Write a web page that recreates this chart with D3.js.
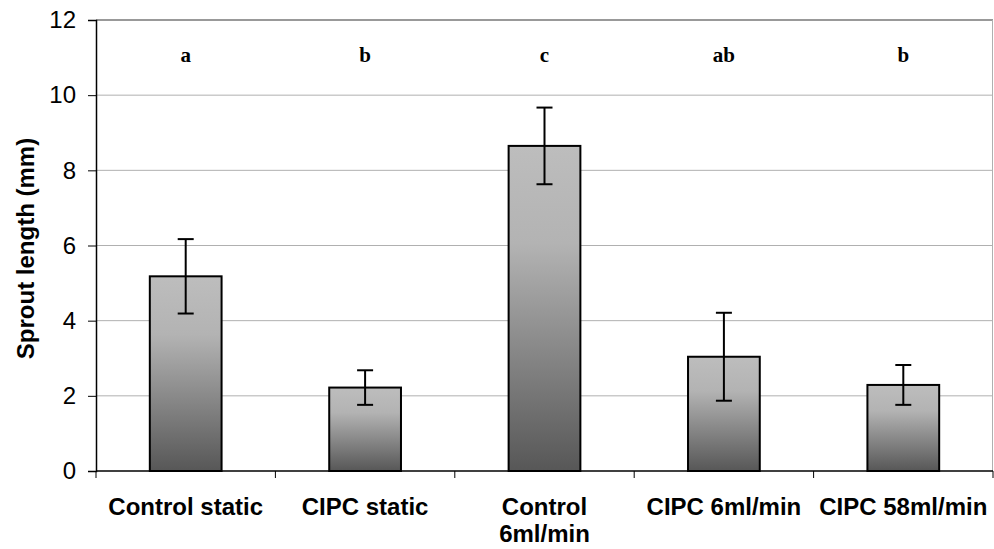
<!DOCTYPE html>
<html>
<head>
<meta charset="utf-8">
<script src="https://cdn.jsdelivr.net/npm/d3@7"></script>
<style>
  body { margin: 0; background: #fff; }
  svg { display: block; }
  .tick text { font-family: Arial, "Liberation Sans", sans-serif; }
</style>
</head>
<body>
<svg id="chart"></svg>
<script>
var categories = ["Control static", "CIPC static", "Control 6ml/min", "CIPC 6ml/min", "CIPC 58ml/min"];
var means = [5.18, 2.22, 8.65, 3.04, 2.29];
var errors = [0.99, 0.46, 1.02, 1.17, 0.53];
var letters = ["a", "b", "c", "ab", "b"];
var yTicks = [0, 2, 4, 6, 8, 10, 12];

var width = 994,
    height = 549,
    margin = {top: 20, right: 1, bottom: 78, left: 96},
    innerwidth = width - margin.left - margin.right,
    innerheight = height - margin.top - margin.bottom;

var data = categories.map(function(c, i) {
    return {name: c, mean: means[i], err: errors[i], letter: letters[i]};
});

var svg = d3.select("#chart")
    .attr("width", width)
    .attr("height", height);

var defs = svg.append("defs");
var grad = defs.append("linearGradient")
    .attr("id", "barGrad")
    .attr("x1", 0).attr("y1", 0)
    .attr("x2", 0).attr("y2", 1);
grad.append("stop").attr("offset", "0%").attr("stop-color", "#bdbdbd");
grad.append("stop").attr("offset", "30%").attr("stop-color", "#b3b3b3");
grad.append("stop").attr("offset", "100%").attr("stop-color", "#575757");

var g = svg.append("g")
    .attr("transform", "translate(" + margin.left + "," + margin.top + ")");

var xScale = d3.scaleBand()
    .range([0, innerwidth])
    .domain(categories)
    .paddingInner(0.6)
    .paddingOuter(0.3);

var yScale = d3.scaleLinear()
    .range([innerheight, 0])
    .domain([0, 12]);

// gridlines
g.selectAll(".grid")
    .data(yTicks.filter(function(d) { return d > 0; }))
    .enter().append("line")
    .attr("class", "grid")
    .attr("x1", 0)
    .attr("x2", innerwidth)
    .attr("y1", function(d) { return yScale(d); })
    .attr("y2", function(d) { return yScale(d); })
    .attr("stroke", function(d) { return d === 12 ? "#999" : "#b0b0b0"; })
    .attr("stroke-width", function(d) { return d === 12 ? 2 : 1; });

// right border
g.append("line")
    .attr("x1", innerwidth - 0.5).attr("x2", innerwidth - 0.5)
    .attr("y1", 0).attr("y2", innerheight)
    .attr("stroke", "#b0b0b0");

// bars
g.selectAll(".bar")
    .data(data)
    .enter().append("rect")
    .attr("class", "bar")
    .attr("x", function(d) { return xScale(d.name); })
    .attr("y", function(d) { return yScale(d.mean); })
    .attr("width", xScale.bandwidth())
    .attr("height", function(d) { return innerheight - yScale(d.mean); })
    .attr("fill", "url(#barGrad)")
    .attr("stroke", "#000")
    .attr("stroke-width", 2);

// error bars
var eb = g.selectAll(".err")
    .data(data)
    .enter().append("g")
    .attr("class", "err")
    .attr("transform", function(d) { return "translate(" + (xScale(d.name) + xScale.bandwidth() / 2) + ",0)"; });

eb.append("line")
    .attr("x1", 0).attr("x2", 0)
    .attr("y1", function(d) { return yScale(d.mean + d.err); })
    .attr("y2", function(d) { return yScale(d.mean - d.err); })
    .attr("stroke", "#000").attr("stroke-width", 2);
eb.append("line")
    .attr("x1", -8).attr("x2", 8)
    .attr("y1", function(d) { return yScale(d.mean + d.err); })
    .attr("y2", function(d) { return yScale(d.mean + d.err); })
    .attr("stroke", "#000").attr("stroke-width", 2);
eb.append("line")
    .attr("x1", -8).attr("x2", 8)
    .attr("y1", function(d) { return yScale(d.mean - d.err); })
    .attr("y2", function(d) { return yScale(d.mean - d.err); })
    .attr("stroke", "#000").attr("stroke-width", 2);

// significance letters
g.selectAll(".letter")
    .data(data)
    .enter().append("text")
    .attr("class", "letter")
    .attr("x", function(d) { return xScale(d.name) + xScale.bandwidth() / 2; })
    .attr("y", 42)
    .attr("text-anchor", "middle")
    .style("font-family", "'Liberation Serif', 'Times New Roman', serif")
    .style("font-weight", "bold")
    .style("font-size", "21px")
    .text(function(d) { return d.letter; });

// y axis
var yAxis = d3.axisLeft(yScale).tickValues(yTicks).tickSize(8).tickPadding(12);
var ya = g.append("g").attr("class", "y axis").call(yAxis);
ya.select(".domain").attr("stroke", "#000").attr("stroke-width", 1.5);
ya.selectAll(".tick line").attr("stroke", "#000");
ya.selectAll(".tick text").style("font-size", "24px").attr("fill", "#000");

// x axis: ticks at band boundaries
var xa = g.append("g")
    .attr("class", "x axis")
    .attr("transform", "translate(0," + innerheight + ")");
xa.append("line")
    .attr("x1", 0).attr("x2", innerwidth)
    .attr("stroke", "#000").attr("stroke-width", 1.5);
var step = xScale.step();
var bounds = d3.range(categories.length + 1).map(function(i) {
    return xScale(categories[0]) - xScale.paddingOuter() * step + i * step;
});
xa.selectAll(".xtick")
    .data(bounds)
    .enter().append("line")
    .attr("class", "xtick")
    .attr("x1", function(d) { return d; })
    .attr("x2", function(d) { return d; })
    .attr("y1", 0).attr("y2", 7)
    .attr("stroke", "#000");

var xl = xa.selectAll(".xlabel")
    .data(data)
    .enter().append("text")
    .attr("class", "xlabel")
    .attr("x", function(d) { return xScale(d.name) + xScale.bandwidth() / 2; })
    .attr("y", 44)
    .attr("text-anchor", "middle")
    .style("font-family", "Arial, 'Liberation Sans', sans-serif")
    .style("font-weight", "bold")
    .style("font-size", "24px");
xl.each(function(d) {
    var t = d3.select(this);
    var lines = d.name === "Control 6ml/min" ? ["Control", "6ml/min"] : [d.name];
    lines.forEach(function(s, i) {
        t.append("tspan")
            .attr("x", t.attr("x"))
            .attr("dy", i === 0 ? 0 : 27)
            .text(s);
    });
});

// y label
svg.append("text")
    .attr("transform", "translate(34," + (margin.top + innerheight / 2 + 3) + ") rotate(-90)")
    .attr("text-anchor", "middle")
    .style("font-family", "Arial, 'Liberation Sans', sans-serif")
    .style("font-weight", "bold")
    .style("font-size", "24px")
    .text("Sprout length (mm)");
</script>
</body>
</html>
